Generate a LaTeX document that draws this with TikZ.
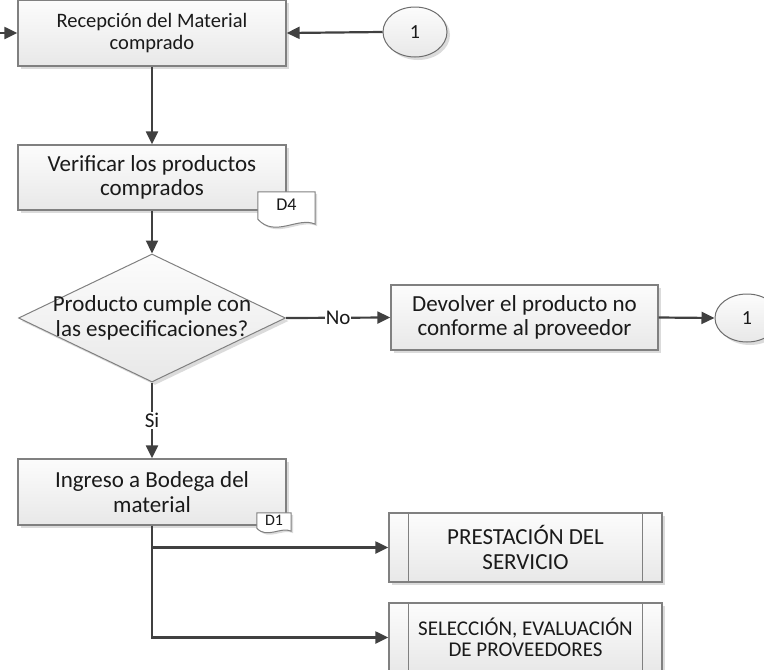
\documentclass[tikz,border=0pt]{standalone}
\usepackage{fontspec}
\setmainfont{Carlito}
\usetikzlibrary{arrows.meta,shapes.geometric,shadows,calc}

\definecolor{edgegray}{HTML}{808080}
\definecolor{linegray}{HTML}{404040}
\definecolor{filltop}{HTML}{FCFCFC}
\definecolor{fillbot}{HTML}{E8E8E8}
\definecolor{inkblack}{HTML}{1A1A1A}

\begin{document}
\begin{tikzpicture}[x=1pt,y=-1pt,
  boxfill/.style={top color=filltop, bottom color=fillbot},
  shadowed/.style={drop shadow={shadow xshift=3pt, shadow yshift=-3pt, fill=black!14, opacity=1}},
  box/.style={rectangle, draw=edgegray, line width=1.3pt, boxfill, shadowed,
    minimum width=268pt, minimum height=66pt, inner sep=2pt, align=center,
    text=inkblack, font=\fontsize{23}{24.5}\selectfont},
  subproc/.style={box, minimum width=273pt, minimum height=69pt},
  decision/.style={diamond, draw=edgegray, line width=1pt, boxfill, shadowed,
    minimum width=267pt, minimum height=128pt, inner sep=0pt},
  connector/.style={ellipse, draw=edgegray!85!black, line width=1pt, boxfill, shadowed,
    minimum width=64pt, minimum height=50pt, inner sep=0pt,
    text=inkblack, font=\fontsize{20}{20}\selectfont},
  docframe/.style={rectangle, inner sep=0pt},
  docpath/.style={draw=edgegray, line width=1pt, fill=white, drop shadow={shadow xshift=2pt, shadow yshift=-2pt, fill=black!14, opacity=1}},
  doctext/.style={text=inkblack, font=\fontsize{18}{18}\selectfont, inner sep=0pt},
  conn/.style={draw=linegray, line width=2.2pt, -{Triangle[length=13pt,width=12pt]}},
  lbl/.style={fill=white, inner sep=1pt, text=inkblack, font=\fontsize{21}{21}\selectfont}
]
\useasboundingbox (0,0) rectangle (764,670);

% process steps
\node[box, font=\fontsize{20.5}{22}\selectfont] (rec) at (152,33) {Recepción del Material\\comprado};
\node[connector] (c1) at (415,32) {1};
\node[box, minimum height=65pt] (ver) at (152,177.5) {Verificar los productos\\comprados};

% record D4
\node[docframe, minimum width=57pt, minimum height=36pt] (d4) at (286.5,210) {};
\path[docpath] (d4.north west) -- (d4.north east) -- ($(d4.south east)+(0,-4)$)
  .. controls ($(d4.south east)+(-17,-12)$) and ($(d4.south west)+(17,10)$) .. ($(d4.south west)+(0,-9)$) -- cycle;
\node[doctext] (d4txt) at ($(d4.center)+(0,-5)$) {D4};

% decision
\node[decision] (dec) at (152,318) {};
\node[text=inkblack, font=\fontsize{23}{25}\selectfont, align=center, inner sep=0pt] (dectxt) at (dec.center) {Producto cumple con\\las especificaciones?};

\node[box, minimum width=267pt, minimum height=65pt] (dev) at (524.5,317.5) {Devolver el producto no\\conforme al proveedor};
\node[connector, minimum height=48pt] (c1b) at (747,318) {1};

\node[box] (ing) at (152,492) {Ingreso a Bodega del\\material};

% record D1
\node[docframe, minimum width=34pt, minimum height=20pt] (d1) at (274,523) {};
\path[docpath] (d1.north west) -- (d1.north east) -- ($(d1.south east)+(0,-2)$)
  .. controls ($(d1.south east)+(-10,-7)$) and ($(d1.south west)+(10,6)$) .. ($(d1.south west)+(0,-5)$) -- cycle;
\node[doctext, font=\fontsize{16}{16}\selectfont] (d1txt) at ($(d1.center)+(0,-3)$) {D1};

% predefined processes
\node[subproc] (pres) at (525.5,547.5) {PRESTACIÓN DEL\\SERVICIO};
\node[subproc, font=\fontsize{21}{20.5}\selectfont] (sel) at (525.5,637.5) {SELECCIÓN, EVALUACIÓN\\DE PROVEEDORES};
\foreach \n in {pres,sel}{
  \draw[edgegray, line width=1.3pt] ($(\n.north west)+(20,0)$) -- ($(\n.south west)+(20,0)$);
  \draw[edgegray, line width=1.3pt] ($(\n.north east)+(-20,0)$) -- ($(\n.south east)+(-20,0)$);
}

% connectors
\coordinate (entry) at (0,33);
\draw[conn] (entry) -- (rec.west);
\draw[conn] (c1.west) -- (rec.east);
\draw[conn] (rec.south) -- (ver.north);
\draw[conn] (ver.south) -- (dec.north);
\draw[conn] (dec.east) -- node[lbl] (no) {No} (dev.west);
\draw[conn] (dev.east) -- (c1b.west);
\draw[conn] (dec.south) -- node[lbl] (si) {Si} (ing.north);
\draw[conn] (ing.south) |- (pres.west);
\draw[conn] (ing.south) |- (sel.west);
\end{tikzpicture}
\end{document}
